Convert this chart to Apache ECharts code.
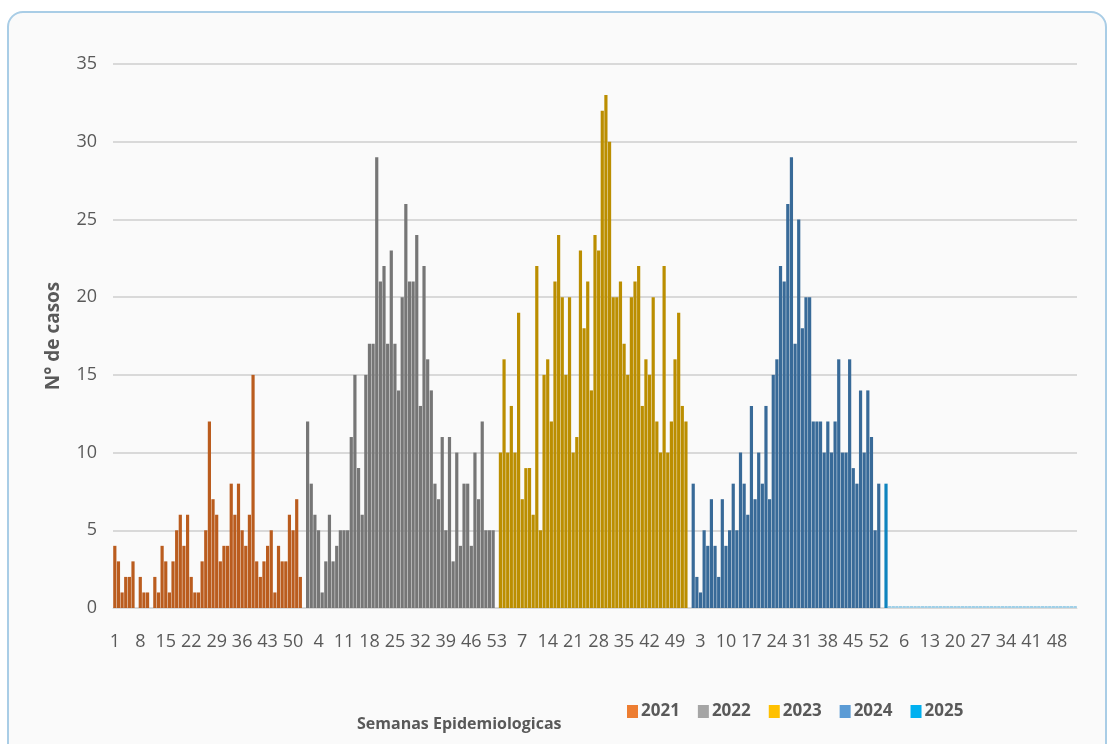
<!DOCTYPE html>
<html>
<head>
<meta charset="utf-8">
<script src="https://cdn.jsdelivr.net/npm/echarts@6/dist/echarts.min.js"></script>
<style>
  html, body { margin: 0; padding: 0; background: #ffffff; }
  #card {
    position: absolute; left: 7px; top: 11px; width: 1096px; height: 760px;
    border: 2px solid #a9cde6; border-radius: 16px; background: #fafafa;
  }
  #chart { position: absolute; left: 0; top: 0; width: 1112px; height: 744px; }
</style>
</head>
<body>
<div id="card"></div>
<div id="chart"></div>
<script>
const years = ['2021', '2022', '2023', '2024', '2025'];
const weeksPerYear = 53;

// casos por semana epidemiologica (semana 53 vacia si no aplica)
const cases2021 = [4, 3, 1, 2, 2, 3, 0, 2, 1, 1, 0, 2, 1, 4, 3, 1, 3, 5, 6, 4, 6, 2, 1, 1, 3, 5,
                   12, 7, 6, 3, 4, 4, 8, 6, 8, 5, 4, 6, 15, 3, 2, 3, 4, 5, 1, 4, 3, 3, 6, 5, 7, 2, null];
const cases2022 = [12, 8, 6, 5, 1, 3, 6, 3, 4, 5, 5, 5, 11, 15, 9, 6, 15, 17, 17, 29, 21, 22, 17, 23, 17, 14,
                   20, 26, 21, 21, 24, 13, 22, 16, 14, 8, 7, 11, 5, 11, 3, 10, 4, 8, 8, 4, 10, 7, 12, 5, 5, 5, null];
const cases2023 = [10, 16, 10, 13, 10, 19, 7, 9, 9, 6, 22, 5, 15, 16, 12, 21, 24, 20, 15, 20, 10, 11, 23, 18, 21, 14,
                   24, 23, 32, 33, 30, 20, 20, 21, 17, 15, 20, 21, 22, 13, 16, 15, 20, 12, 10, 22, 10, 12, 16, 19, 13, 12, null];
const cases2024 = [8, 2, 1, 5, 4, 7, 4, 2, 7, 4, 5, 8, 5, 10, 8, 6, 13, 7, 10, 8, 13, 7, 15, 16, 22, 21,
                   26, 29, 17, 25, 18, 20, 20, 12, 12, 12, 10, 12, 10, 12, 16, 10, 10, 16, 9, 8, 14, 10, 14, 11, 5, 8, null];
const cases2025 = [8, 0, 0, 0, 0, 0, 0, 0, 0, 0, 0, 0, 0, 0, 0, 0, 0, 0, 0, 0, 0, 0, 0, 0, 0, 0,
                   0, 0, 0, 0, 0, 0, 0, 0, 0, 0, 0, 0, 0, 0, 0, 0, 0, 0, 0, 0, 0, 0, 0, 0, 0, 0, 0];

const barColors = ['#BA5C1E', '#767676', '#BB8E00', '#386A98', '#0F84BE'];
const legendColors = ['#ED7D31', '#A5A5A5', '#FFC000', '#5B9BD5', '#00B0F0'];
const yTicks = { min: 0, max: 35, interval: 5 };

const allCases = [cases2021, cases2022, cases2023, cases2024, cases2025];

// categorias: semanas 1..53 repetidas por anio
const categories = [];
years.forEach(() => {
    for (let w = 1; w <= weeksPerYear; w++) categories.push(String(w));
});

const fontFam = "'Open Sans', sans-serif";
const chart = echarts.init(document.getElementById('chart'));

const series = years.map((y, k) => {
    const data = categories.map(() => null);
    allCases[k].forEach((v, i) => { data[k * weeksPerYear + i] = v; });
    const s = {
        name: y,
        type: 'bar',
        stack: 'todos',
        data: data,
        barCategoryGap: '12%',
        itemStyle: { color: barColors[k] }
    };
    if (y === '2025') {
        s.barMinHeight = 2;
        s.itemStyle = { color: p => (p.value > 0 ? barColors[k] : '#9fd0e8') };
    }
    return s;
});

chart.setOption({
    animation: false,
    title: {
        text: 'Semanas Epidemiologicas',
        left: 352, top: 711,
        textStyle: { fontFamily: fontFam, fontSize: 16, fontWeight: 'bold', color: '#595959' }
    },
    legend: {
        left: 622, top: 698,
        itemWidth: 11, itemHeight: 13, itemGap: 18,
        icon: 'rect',
        data: years.map((y, k) => ({ name: y, itemStyle: { color: legendColors[k] } })),
        textStyle: { fontFamily: fontFam, fontSize: 17, fontWeight: 'bold', color: '#595959', padding: [0, 0, 0, -2] }
    },
    grid: { left: 113, top: 64, width: 964, bottom: 136 },
    xAxis: {
        type: 'category',
        data: categories,
        axisTick: { show: false },
        axisLine: { show: true, lineStyle: { color: '#d9d9d9' } },
        axisLabel: {
            interval: 6, margin: 25,
            fontFamily: fontFam, fontSize: 18, color: '#595959'
        }
    },
    yAxis: {
        type: 'value',
        min: yTicks.min, max: yTicks.max, interval: yTicks.interval,
        name: 'N° de casos',
        nameLocation: 'middle', nameGap: 50,
        nameTextStyle: { fontFamily: fontFam, fontSize: 19, fontWeight: 'bold', color: '#595959' },
        axisLine: { show: false },
        axisLabel: { margin: 16, fontFamily: fontFam, fontSize: 18, color: '#595959' },
        splitLine: { lineStyle: { color: '#d9d9d9', width: 2 } }
    },
    series: series
});
</script>
</body>
</html>
